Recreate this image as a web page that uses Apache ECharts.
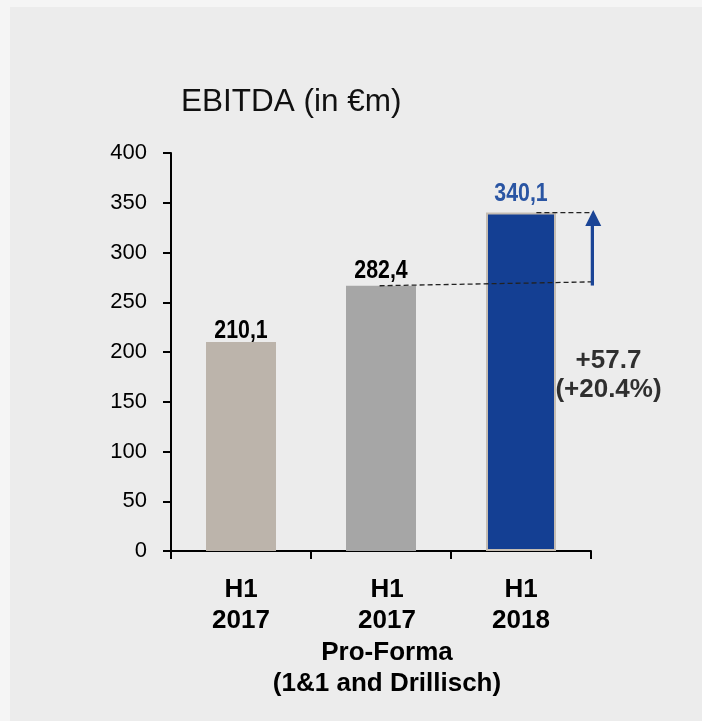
<!DOCTYPE html>
<html>
<head>
<meta charset="utf-8">
<script src="https://cdn.jsdelivr.net/npm/echarts@6/dist/echarts.min.js"></script>
<style>
html,body{margin:0;padding:0;background:#f5f5f5;}
#c{width:702px;height:721px;}
</style>
</head>
<body>
<div id="c"></div>
<script>
// ---- data ----
const titleText = 'EBITDA (in €m)';
const categories = ['H1\n2017', 'H1\n2017\nPro-Forma\n(1&1 and Drillisch)', 'H1\n2018'];
const barValues = [210.1, 266.6, 340.1];
const valueLabels = ['210,1', '282,4', '340,1'];
const yMin = 0, yMax = 400, yStep = 50;
// annotation (hidden value x-axis: 0..3 spans the three categories)
const baseDashLine = [[1.49, 266.6], [3.06, 270.6]];
const topDashLine = [[2.61, 340.1], [3.015, 340.1]];
const arrowPoints = [[3.016, 266.8], [3.016, 334.7]];
const changeLines = ['+57.7', '(+20.4%)'];
const changeAnchor = [3.125, 177];

const barColors = ['#bcb4ab', '#a6a6a6', '#143f93'];
const labelColors = ['#000000', '#000000', '#2a55a3'];
const labelGap = [2.5, 5.7, 10];
const FONT = 'Liberation Sans, Arial, sans-serif';

const chart = echarts.init(document.getElementById('c'), null, {renderer: 'canvas'});
const option = {
  animation: false,
  backgroundColor: '#f5f5f5',
  graphic: [{
    type: 'rect', z: -10, silent: true,
    shape: {x: 10, y: 7, width: 700, height: 720},
    style: {fill: '#ececec'}
  }],
  title: {
    text: titleText,
    left: 176, top: 81,
    textStyle: {fontFamily: FONT, fontSize: 31.5, fontWeight: 'normal', color: '#111'}
  },
  grid: {left: 171, top: 153, width: 420, height: 398},
  xAxis: [{
    type: 'category',
    data: categories.map((c, i) => i === 1 ? {value: c, textStyle: {padding: [0, 0, 0, 12]}} : c),
    axisLine: {lineStyle: {color: '#000', width: 2}},
    axisTick: {show: true, length: 8, lineStyle: {color: '#000', width: 2}},
    axisLabel: {
      margin: 23,
      color: '#000',
      fontFamily: FONT,
      fontWeight: 'bold',
      fontSize: 26,
      lineHeight: 31.5,
      verticalAlign: 'top',
      interval: 0
    }
  }, {
    type: 'value', min: 0, max: 3, show: false
  }],
  yAxis: {
    type: 'value', min: yMin, max: yMax, interval: yStep,
    axisLine: {show: true, lineStyle: {color: '#000', width: 2}},
    axisTick: {show: true, length: 8, lineStyle: {color: '#000', width: 2}},
    splitLine: {show: false},
    axisLabel: {margin: 24, color: '#000', fontFamily: FONT, fontSize: 22}
  },
  series: [
    {
      type: 'bar',
      barWidth: '50%',
      data: barValues.map((v, i) => ({
        value: v,
        itemStyle: i === 2 ? {color: barColors[i], borderColor: '#c5bdb3', borderWidth: 2} : {color: barColors[i]}
      }))
    },
    {
      // condensed bold value labels above the bars
      type: 'custom', silent: true, z: 5,
      data: barValues.map((v, i) => [i, v]),
      renderItem: function (params, api) {
        const i = params.dataIndex;
        const pt = api.coord([api.value(0), api.value(1)]);
        return {
          type: 'text',
          x: pt[0], y: pt[1] - labelGap[i] + 4,
          scaleX: 0.82,
          style: {
            text: valueLabels[i],
            fill: labelColors[i],
            fontFamily: FONT, fontWeight: 'bold', fontSize: 26,
            align: 'center', verticalAlign: 'bottom'
          }
        };
      }
    },
    {
      type: 'line', xAxisIndex: 1, clip: false, symbol: 'none', silent: true,
      data: baseDashLine,
      lineStyle: {color: '#222', width: 1.3, type: [5, 3]}
    },
    {
      type: 'line', xAxisIndex: 1, clip: false, symbol: 'none', silent: true,
      data: topDashLine,
      lineStyle: {color: '#222', width: 1.3, type: [5, 3]}
    },
    {
      type: 'line', xAxisIndex: 1, clip: false, silent: true, showSymbol: true,
      lineStyle: {color: '#1a4496', width: 5, cap: 'butt'},
      itemStyle: {color: '#1a4496'},
      data: arrowPoints.map((p, i) => i === arrowPoints.length - 1
        ? {value: p, symbol: 'triangle', symbolSize: [16, 16]}
        : {value: p, symbol: 'none'})
    },
    {
      type: 'scatter', xAxisIndex: 1, clip: false, silent: true, symbolSize: 0,
      data: [changeAnchor],
      label: {
        show: true, position: 'inside',
        formatter: changeLines.join('\n'),
        color: '#000', fontFamily: FONT,
        fontWeight: 'bold', fontSize: 26, lineHeight: 29, align: 'center'
      }
    }
  ]
};
chart.setOption(option);
</script>
</body>
</html>
